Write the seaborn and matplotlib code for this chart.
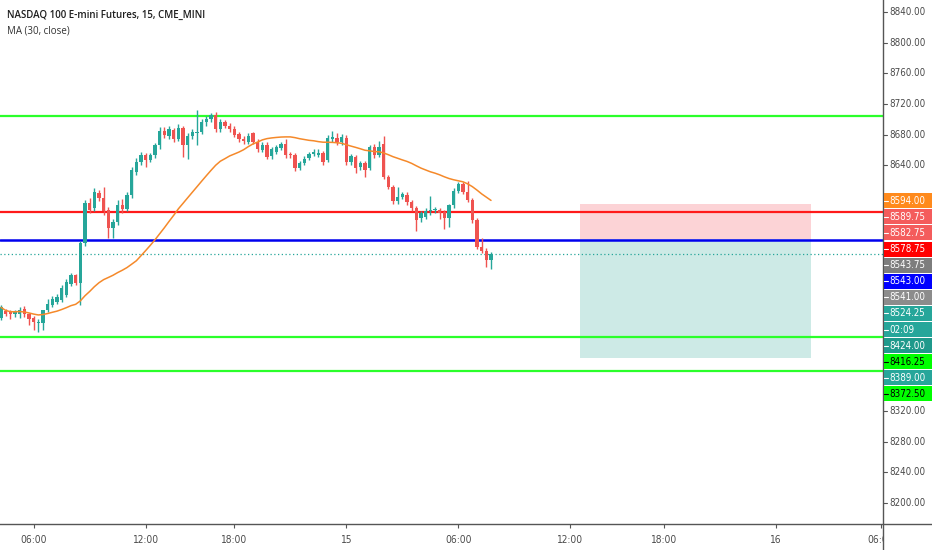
import numpy as np
import pandas as pd
import matplotlib
matplotlib.use("Agg")
import matplotlib.pyplot as plt
from matplotlib.patches import Rectangle
from matplotlib import font_manager as fm
import seaborn as sns

# ---------------- data ----------------
opens = [8441, 8450, 8449, 8447, 8446, 8453, 8447, 8441, 8434, 8435,
         8451, 8458, 8462, 8465, 8471, 8486, 8497, 8487, 8539, 8591,
         8584, 8604, 8598, 8582, 8558, 8566, 8588, 8583, 8601, 8632,
         8644, 8653, 8647, 8653, 8666, 8685, 8678, 8686, 8675, 8689,
         8667, 8678, 8682, 8684, 8696, 8700, 8706, 8688, 8696, 8692,
         8688, 8681, 8675, 8671, 8682, 8671, 8660, 8667, 8652, 8658,
         8663, 8668, 8655, 8653, 8637, 8643, 8650, 8655, 8654, 8656,
         8647, 8674, 8676, 8670, 8676, 8644, 8651, 8638, 8643, 8637,
         8664, 8654, 8668, 8625, 8612, 8593, 8599, 8602, 8592, 8584,
         8571, 8573, 8580, 8582, 8582, 8579, 8572, 8588, 8607, 8616,
         8606, 8595, 8569, 8534, 8529, 8517]
highs = [8458, 8453, 8452, 8452, 8455, 8457, 8448, 8444, 8440, 8452,
         8466, 8470, 8472, 8484, 8492, 8500, 8499, 8542, 8595, 8598,
         8610, 8608, 8612, 8586, 8570, 8595, 8596, 8606, 8638, 8650,
         8657, 8656, 8656, 8669, 8690, 8690, 8691, 8689, 8694, 8692,
         8682, 8688, 8712, 8700, 8704, 8709, 8710, 8700, 8699, 8695,
         8691, 8684, 8678, 8682, 8684, 8674, 8670, 8670, 8664, 8667,
         8671, 8675, 8658, 8656, 8646, 8652, 8658, 8661, 8661, 8659,
         8680, 8685, 8682, 8681, 8680, 8655, 8654, 8646, 8646, 8667,
         8668, 8672, 8678, 8628, 8615, 8612, 8606, 8606, 8595, 8587,
         8581, 8585, 8600, 8586, 8585, 8582, 8590, 8610, 8619, 8619,
         8620, 8598, 8572, 8545, 8532, 8527]
lows = [8438, 8444, 8440, 8443, 8441, 8443, 8432, 8425, 8423, 8426,
        8449, 8455, 8460, 8462, 8468, 8483, 8484, 8458, 8535, 8578,
        8580, 8594, 8575, 8545, 8545, 8563, 8578, 8580, 8598, 8628,
        8640, 8638, 8644, 8650, 8662, 8676, 8674, 8670, 8672, 8651,
        8648, 8675, 8667, 8681, 8692, 8697, 8684, 8684, 8689, 8684,
        8677, 8670, 8668, 8668, 8668, 8657, 8657, 8648, 8649, 8655,
        8660, 8650, 8650, 8633, 8634, 8640, 8647, 8652, 8651, 8641,
        8644, 8670, 8667, 8667, 8641, 8640, 8630, 8634, 8625, 8634,
        8650, 8651, 8622, 8609, 8590, 8590, 8596, 8588, 8580, 8555,
        8566, 8570, 8576, 8578, 8570, 8557, 8560, 8585, 8604, 8603,
        8592, 8565, 8531, 8526, 8508, 8505]
closes = [8455, 8447, 8446, 8449, 8451, 8446, 8440, 8436, 8436, 8451,
          8460, 8466, 8468, 8480, 8488, 8497, 8487, 8539, 8591, 8582,
          8605, 8597, 8580, 8558, 8566, 8588, 8583, 8601, 8634, 8645,
          8653, 8647, 8653, 8666, 8685, 8680, 8687, 8675, 8689, 8667,
          8678, 8683, 8684, 8697, 8701, 8706, 8687, 8697, 8692, 8688,
          8680, 8674, 8672, 8679, 8671, 8661, 8667, 8651, 8661, 8664,
          8668, 8653, 8653, 8637, 8643, 8649, 8655, 8657, 8656, 8645,
          8676, 8677, 8670, 8677, 8644, 8652, 8637, 8643, 8634, 8664,
          8654, 8664, 8625, 8612, 8593, 8599, 8603, 8592, 8584, 8569,
          8578, 8581, 8582, 8583, 8578, 8572, 8588, 8607, 8616, 8606,
          8595, 8569, 8534, 8529, 8517, 8524.25]

ma_period = 30

green_levels = [8704.50, 8416.25, 8372.50]
red_level = 8578.75
blue_level = 8543.00
last_price = 8524.25

# position box (risk/reward)
box_start, box_end = 124.1, 173.6
box_stop, box_entry, box_target = 8589.75, 8543.75, 8389.00

xtick_pos = [7, 31, 50, 74, 98, 122, 142, 166, 188.5]
xtick_labels = ["06:00", "12:00", "18:00", "15", "06:00", "12:00", "18:00", "16", "06:00"]
ytick_vals = list(range(8200, 8841, 40))

price_labels = [
    (8594.00, "8594.00", "#ff8a1c", "white"),
    (8589.75, "8589.75", "#f45c5c", "white"),
    (8582.75, "8582.75", "#f45c5c", "white"),
    (8578.75, "8578.75", "#ff0000", "white"),
    (8543.75, "8543.75", "#7d7d7d", "white"),
    (8543.00, "8543.00", "#0000ff", "white"),
    (8541.00, "8541.00", "#8c8c8c", "white"),
    (8524.25, "8524.25", "#26a69a", "white"),
    (8524.25, "02:09", "#26a69a", "white"),
    (8424.00, "8424.00", "#1f998b", "white"),
    (8416.25, "8416.25", "#00ff00", "black"),
    (8389.00, "8389.00", "#26a69a", "white"),
    (8372.50, "8372.50", "#00ff00", "black"),
]

# ---------------- style ----------------
sns.set_theme(style="white")
plt.rcParams["font.family"] = ["Open Sans", "DejaVu Sans"]


def pick_narrow():
    for fam in ["Liberation Sans Narrow"]:
        try:
            fm.findfont(fm.FontProperties(family=fam), fallback_to_default=False)
            return dict(family=[fam], fontstretch="normal"), 8.0
        except Exception:
            pass
    try:
        p = fm.findfont(fm.FontProperties(family="DejaVu Sans", stretch="condensed"))
        if "ondensed" in p:
            return dict(family=["DejaVu Sans"], fontstretch="condensed"), 7.0
    except Exception:
        pass
    return dict(family=["Roboto", "DejaVu Sans"], fontstretch="normal"), 7.0


narrow_kw, narrow_size = pick_narrow()

W, H = 932, 550
fig = plt.figure(figsize=(W / 100, H / 100), dpi=100)
fig.patch.set_facecolor("white")

ax_right_px = 883
ax_bottom_px = 524
ax = fig.add_axes([0, (H - ax_bottom_px) / H, ax_right_px / W, ax_bottom_px / H])
ax.set_facecolor("white")

ppu = 491 / 640.0               # pixels per price unit
y_top = 8840 + 12 / ppu
y_bot = 8840 - (ax_bottom_px - 12) / ppu
ax.set_ylim(y_bot, y_top)
px_per_bar = 112 / 24.0
ax.set_xlim(-1 / px_per_bar, (ax_right_px - 1) / px_per_bar)

df = pd.DataFrame({"o": opens, "h": highs, "l": lows, "c": closes})
df["i"] = np.arange(len(df))
df["ma"] = df["c"].rolling(ma_period, min_periods=1).mean()
up = df["c"] >= df["o"]
col = np.where(up, "#26a69a", "#ef5350")

# position rectangles
ax.add_patch(Rectangle((box_start, box_entry), box_end - box_start, box_stop - box_entry,
                       facecolor="#fcd3d6", edgecolor="none", zorder=1))
ax.add_patch(Rectangle((box_start, box_target), box_end - box_start, box_entry - box_target,
                       facecolor="#cdeae6", edgecolor="none", zorder=1))

# horizontal levels
for g in green_levels:
    ax.axhline(g, color="#2bff2b", lw=1.6, zorder=2)
ax.axhline(red_level, color="#ff1a1a", lw=1.6, zorder=2)
ax.axhline(blue_level, color="#0000ee", lw=1.8, zorder=2)
ax.axhline(last_price, color="#26a69a", lw=0.9, ls=(0, (1, 2)), zorder=2)

# candles
ax.vlines(df["i"], df["l"], df["h"], colors=col, lw=1, zorder=3)
body = np.maximum((df["c"] - df["o"]).abs(), 1.3)
ax.bar(df["i"], body, bottom=np.minimum(df["o"], df["c"]), width=0.75,
       color=col, edgecolor="none", zorder=4)

# moving average
sns.lineplot(x=df["i"], y=df["ma"], ax=ax, color="#f5892a", lw=1.1, zorder=5)
ax.set_xlabel("")
ax.set_ylabel("")

# axes styling
for s in ["top", "left", "right"]:
    ax.spines[s].set_visible(False)
ax.spines["bottom"].set_color("#555555")
ax.spines["bottom"].set_linewidth(1)
ax.set_yticks([])
ax.set_xticks(xtick_pos)
ax.set_xticklabels(xtick_labels, fontsize=narrow_size + 0.3, color="#4a4a4a", **narrow_kw)
ax.tick_params(axis="x", length=3, width=0.8, color="#555555", pad=5, direction="out")
ax.tick_params(axis="x", bottom=True)

# right price panel
rax = fig.add_axes([ax_right_px / W, 0, (W - ax_right_px) / W, 1])
r_top = y_top
r_bot = 8840 - (H - 12) / ppu
rax.set_ylim(r_bot, r_top)
rax.set_xlim(0, 1)
rax.set_xticks([])
rax.set_yticks([])
rax.set_facecolor("white")
for s in ["top", "right", "bottom"]:
    rax.spines[s].set_visible(False)
rax.spines["left"].set_color("#555555")
rax.spines["left"].set_linewidth(1)
rax.plot([0, 1], [y_bot, y_bot], color="#555555", lw=1, clip_on=False)

# stacked price labels (pushed down to avoid overlap)
lab_h = 15 / ppu
lab_gap = 16.1 / ppu
label_y = []
prev = None
for price, txt, fc, tc in price_labels:
    yy = price if prev is None else min(price, prev - lab_gap)
    prev = yy
    label_y.append(yy)
    rax.add_patch(Rectangle((0.02, yy - lab_h / 2), 0.98, lab_h, facecolor=fc,
                            edgecolor="none", zorder=5))
    rax.plot([0.02, 0.1], [yy, yy], color=tc, lw=0.8, zorder=6)
    rax.text(0.14, yy, txt, fontsize=narrow_size, color=tc, va="center", ha="left",
             zorder=7, **narrow_kw)

# regular axis ticks, hidden where a price label covers them
for v in ytick_vals:
    if any(abs(v - ly) < lab_h for ly in label_y):
        continue
    rax.plot([0, 0.08], [v, v], color="#555555", lw=0.8, zorder=2)
    rax.text(0.14, v, f"{v:.2f}", fontsize=narrow_size, color="#4a4a4a", va="center",
             ha="left", zorder=2, **narrow_kw)

# header text
fig.text(7 / W, 1 - 15 / H, "NASDAQ 100 E-mini Futures, 15, CME_MINI", fontsize=7.0,
         color="#1e1e1e", weight="semibold", va="center", ha="left")
fig.text(7 / W, 1 - 31 / H, "MA (30, close)", fontsize=7.0, color="#333333",
         va="center", ha="left")

fig.savefig("out.png", dpi=100, facecolor="white")
